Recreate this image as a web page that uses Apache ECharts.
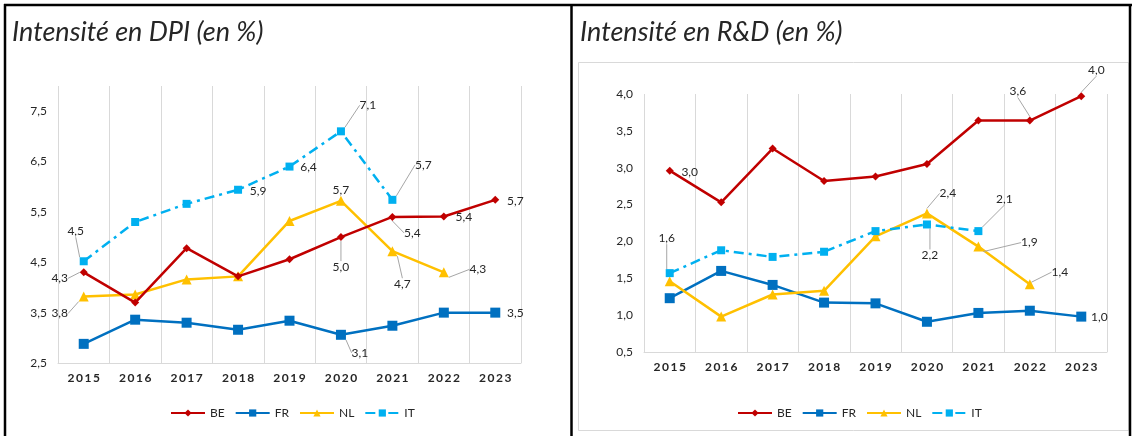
<!DOCTYPE html>
<html><head><meta charset="utf-8">
<script src="https://cdn.jsdelivr.net/npm/echarts@6/dist/echarts.min.js"></script>
<style>html,body{margin:0;padding:0;background:#fff}#c{width:1132px;height:436px}</style>
</head><body><div id="c"></div>
<script>
// ---- data ----
const years = ['2015','2016','2017','2018','2019','2020','2021','2022','2023'];
const seriesNames = ['BE','FR','NL','IT'];
const dpiBE = [4.3, 3.7, 4.78, 4.22, 4.56, 5.0, 5.4, 5.41, 5.74];
const dpiFR = [2.88, 3.36, 3.3, 3.16, 3.34, 3.06, 3.24, 3.5, 3.5];
const dpiNL = [3.82, 3.86, 4.16, 4.22, 5.32, 5.72, 4.72, 4.3, null];
const dpiIT = [4.52, 5.3, 5.66, 5.94, 6.4, 7.1, 5.74, null, null];
const rdBE = [2.96, 2.53, 3.26, 2.82, 2.88, 3.05, 3.64, 3.64, 3.97];
const rdFR = [1.23, 1.6, 1.41, 1.17, 1.16, 0.91, 1.03, 1.06, 0.98];
const rdNL = [1.46, 0.98, 1.28, 1.33, 2.07, 2.38, 1.93, 1.42, null];
const rdIT = [1.57, 1.88, 1.79, 1.86, 2.14, 2.23, 2.14, null, null];
const dpiTicks = {min: 2.5, max: 8, interval: 1, showMax: false};
const rdTicks = {min: 0.5, max: 4, interval: 0.5, showMax: true};
const titles = ['Intensité en DPI (en %)', 'Intensité en R&D (en %)'];

// ---- label placement (offsets from point: dx, dy, leader) ----
const dpiLabels = {
  BE: {0:[-24,6,1], 5:[0,30,1], 6:[20,16,1], 7:[20,1,0], 8:[20,1,0]},
  FR: {5:[19,18,1], 8:[20,0,0]},
  NL: {0:[-24,17,1], 5:[0,-11,0], 6:[10,33,1], 7:[34,-3,1]},
  IT: {0:[-8,-30,1], 3:[20,1,0], 4:[19,1,0], 5:[27,-26,1], 6:[31,-35,1]}
};
const rdLabels = {
  BE: {0:[20,1,0], 7:[-12,-29,1], 8:[15,-26,1]},
  FR: {8:[18,1,0]},
  NL: {5:[21,-20,1], 6:[51,-4,1], 7:[30,-12,1]},
  IT: {0:[-3,-35,1], 5:[3,31,1], 6:[26,-32,1]}
};

const FONT = 'Lato, "Open Sans", sans-serif';
const styles = {
  BE: {color:'#C00000', symbol:'diamond', size:8, dash:'solid'},
  FR: {color:'#0070C0', symbol:'rect', size:10, dash:'solid'},
  NL: {color:'#FFC000', symbol:'triangle', size:10, dash:'solid'},
  IT: {color:'#00B0F0', symbol:'rect', size:8, dash:[10,5,3,5]}
};
const fmt = v => v.toFixed(1).replace('.', ',');

function makeSeries(name, values, labels, axisIdx) {
  const st = styles[name];
  const lab = labels[name] || {};
  const data = values.map((v, i) => {
    if (v === null) return null;
    const spec = lab[i];
    if (!spec) return {value: v};
    return {value: v, label: {show: true}, labelLine: {show: !!spec[2]}};
  });
  return {
    name: name, type: 'line', xAxisIndex: axisIdx, yAxisIndex: axisIdx,
    data: data, symbol: st.symbol, symbolSize: st.size,
    showAllSymbol: true, connectNulls: false,
    itemStyle: {color: st.color},
    lineStyle: {color: st.color, width: 2.5, type: st.dash},
    label: {
      show: false, position: 'inside', align: 'center', verticalAlign: 'middle',
      color: '#262626', fontFamily: FONT, fontSize: 12,
      formatter: p => fmt(p.value)
    },
    labelLine: {show: false, lineStyle: {color: '#A6A6A6', width: 1}},
    labelLayout: p => {
      const s = lab[p.dataIndex];
      return s ? {dx: s[0], dy: s[1]} : {};
    },
    emphasis: {disabled: true},
    animation: false, z: name === 'BE' ? 4 : 3
  };
}

const spaced = s => s.split('').join('\u2009');

function xAxis(gi) {
  return {
    type: 'category', gridIndex: gi, data: years, boundaryGap: true,
    axisLine: {show: true, lineStyle: {color: '#D9D9D9', width: 1}},
    axisTick: {show: false},
    splitLine: {show: true, lineStyle: {color: '#D9D9D9', width: 1}},
    axisLabel: {margin: 9, color: '#262626', fontFamily: FONT, fontWeight: 'bold', fontSize: 12, formatter: v => spaced(v), interval: 0}
  };
}
function yAxis(gi, t) {
  return {
    type: 'value', gridIndex: gi, min: t.min, max: t.max, interval: t.interval,
    axisLine: {show: false}, axisTick: {show: false}, splitLine: {show: false},
    axisLabel: {margin: 11, color: '#262626', fontFamily: FONT, fontSize: 12, showMaxLabel: t.showMax,
      formatter: v => fmt(v)}
  };
}
function legend(left, top) {
  return {
    data: seriesNames, left: left, top: top, itemWidth: 34, itemHeight: 9, itemGap: 10,
    textStyle: {color: '#262626', fontFamily: FONT, fontSize: 12},
    selectedMode: false
  };
}

const titleStyle = {fontFamily: FONT, fontStyle: 'italic', fontWeight: 'normal', fontSize: 27, color: '#262626'};
const chart = echarts.init(document.getElementById('c'), null, {renderer: 'canvas'});
chart.setOption({
  animation: false,
  backgroundColor: '#ffffff',
  title: [
    {text: titles[0], left: 7, top: 14, textStyle: titleStyle},
    {text: titles[1], left: 575, top: 14, textStyle: titleStyle}
  ],
  legend: [legend(165, 402), legend(732, 402)],
  grid: [
    {left: 58, right: 611, top: 86, bottom: 73, containLabel: false},
    {left: 644, right: 25, top: 94, bottom: 84, containLabel: false}
  ],
  xAxis: [xAxis(0), xAxis(1)],
  yAxis: [yAxis(0, dpiTicks), yAxis(1, rdTicks)],
  series: [
    makeSeries('BE', dpiBE, dpiLabels, 0),
    makeSeries('FR', dpiFR, dpiLabels, 0),
    makeSeries('NL', dpiNL, dpiLabels, 0),
    makeSeries('IT', dpiIT, dpiLabels, 0),
    makeSeries('BE', rdBE, rdLabels, 1),
    makeSeries('FR', rdFR, rdLabels, 1),
    makeSeries('NL', rdNL, rdLabels, 1),
    makeSeries('IT', rdIT, rdLabels, 1)
  ],
  graphic: [
    {type: 'rect', shape: {x: 578.5, y: 62.5, width: 550, height: 368}, style: {fill: 'none', stroke: '#D9D9D9', lineWidth: 1}, silent: true},
    {type: 'line', shape: {x1: 4, y1: 5, x2: 1132, y2: 5}, style: {stroke: '#000', lineWidth: 2.5}, silent: true},
    {type: 'line', shape: {x1: 5, y1: 4, x2: 5, y2: 436}, style: {stroke: '#000', lineWidth: 2.5}, silent: true},
    {type: 'line', shape: {x1: 571.5, y1: 4, x2: 571.5, y2: 436}, style: {stroke: '#000', lineWidth: 2.5}, silent: true},
    {type: 'line', shape: {x1: 1130, y1: 4, x2: 1130, y2: 436}, style: {stroke: '#000', lineWidth: 2.5}, silent: true}
  ]
});
</script></body></html>
